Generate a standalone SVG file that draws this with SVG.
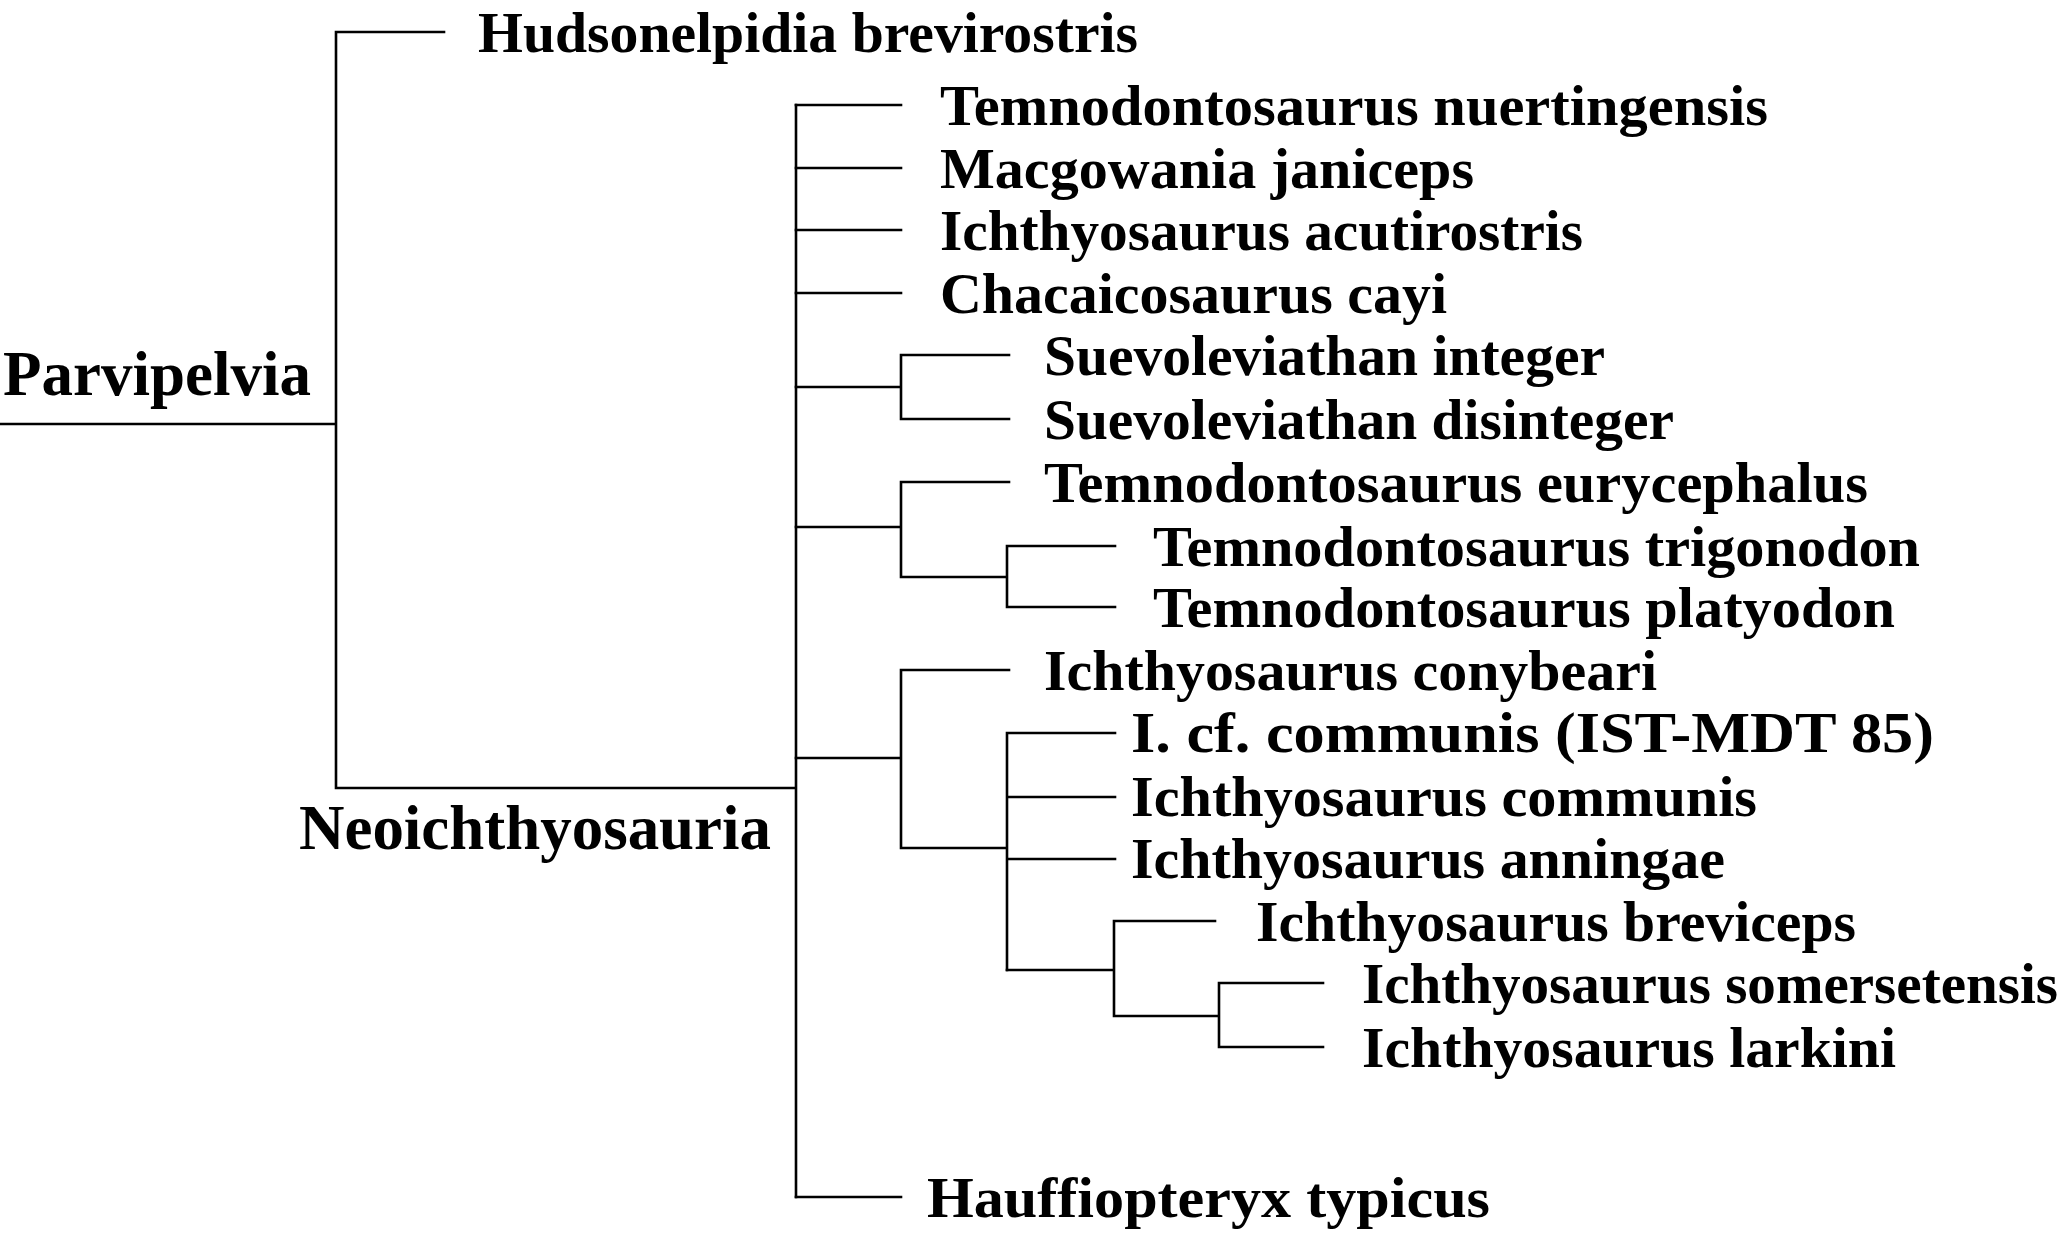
<svg xmlns="http://www.w3.org/2000/svg" width="2067" height="1235" viewBox="0 0 2067 1235">
<style>
.e{fill:none;stroke:#000;stroke-width:2.6;stroke-linecap:square}
.l{font-family:"Liberation Serif","Times New Roman",serif;font-weight:bold;font-size:58px;fill:#000}
.c{font-family:"Liberation Serif","Times New Roman",serif;font-weight:bold;font-size:63px;fill:#000}
</style>
<rect width="2067" height="1235" fill="#fff"/>
<g id="connectors" class="e">
<path d="M0,424H336M336,32V788M336,32H444M336,788H796M796,105V1197"/>
<path d="M796,105H901M796,168H901M796,230H901M796,293H901"/>
<path d="M796,387H901M901,355V419M901,355H1009M901,419H1009"/>
<path d="M796,527H901M901,482V577M901,482H1009M901,577H1007M1007,546V607M1007,546H1115M1007,607H1115"/>
<path d="M796,758H901M901,670V848M901,670H1009M901,848H1007M1007,733V970M1007,733H1115M1007,797H1115M1007,859H1115"/>
<path d="M1007,970H1114M1114,921V1016M1114,921H1215M1114,1016H1219M1219,983V1047M1219,983H1323M1219,1047H1323"/>
<path d="M796,1197H901"/>
</g>
<g id="parvipelvia"><text class="c" x="3" y="395" textLength="308" lengthAdjust="spacingAndGlyphs">Parvipelvia</text></g>
<g id="neoichthyosauria"><text class="c" x="299" y="849" textLength="472" lengthAdjust="spacingAndGlyphs">Neoichthyosauria</text></g>
<g id="hudsonelpidia"><text class="l" x="478" y="52" textLength="660" lengthAdjust="spacingAndGlyphs">Hudsonelpidia brevirostris</text></g>
<g id="t-nuertingensis"><text class="l" x="940" y="125" textLength="828" lengthAdjust="spacingAndGlyphs">Temnodontosaurus nuertingensis</text></g>
<g id="m-janiceps"><text class="l" x="940" y="188" textLength="534" lengthAdjust="spacingAndGlyphs">Macgowania janiceps</text></g>
<g id="i-acutirostris"><text class="l" x="940" y="250" textLength="643" lengthAdjust="spacingAndGlyphs">Ichthyosaurus acutirostris</text></g>
<g id="c-cayi"><text class="l" x="940" y="313" textLength="507" lengthAdjust="spacingAndGlyphs">Chacaicosaurus cayi</text></g>
<g id="s-integer"><text class="l" x="1044" y="375" textLength="561" lengthAdjust="spacingAndGlyphs">Suevoleviathan integer</text></g>
<g id="s-disinteger"><text class="l" x="1044" y="439" textLength="630" lengthAdjust="spacingAndGlyphs">Suevoleviathan disinteger</text></g>
<g id="t-eurycephalus"><text class="l" x="1044" y="502" textLength="824" lengthAdjust="spacingAndGlyphs">Temnodontosaurus eurycephalus</text></g>
<g id="t-trigonodon"><text class="l" x="1153" y="566" textLength="767" lengthAdjust="spacingAndGlyphs">Temnodontosaurus trigonodon</text></g>
<g id="t-platyodon"><text class="l" x="1153" y="627" textLength="742" lengthAdjust="spacingAndGlyphs">Temnodontosaurus platyodon</text></g>
<g id="i-conybeari"><text class="l" x="1044" y="690" textLength="613" lengthAdjust="spacingAndGlyphs">Ichthyosaurus conybeari</text></g>
<g id="i-cf-communis"><text class="l" x="1131" y="752" textLength="803" lengthAdjust="spacingAndGlyphs">I. cf. communis (IST-MDT 85)</text></g>
<g id="i-communis"><text class="l" x="1131" y="816" textLength="626" lengthAdjust="spacingAndGlyphs">Ichthyosaurus communis</text></g>
<g id="i-anningae"><text class="l" x="1131" y="878" textLength="594" lengthAdjust="spacingAndGlyphs">Ichthyosaurus anningae</text></g>
<g id="i-breviceps"><text class="l" x="1256" y="941" textLength="600" lengthAdjust="spacingAndGlyphs">Ichthyosaurus breviceps</text></g>
<g id="i-somersetensis"><text class="l" x="1362" y="1003" textLength="696" lengthAdjust="spacingAndGlyphs">Ichthyosaurus somersetensis</text></g>
<g id="i-larkini"><text class="l" x="1362" y="1067" textLength="534" lengthAdjust="spacingAndGlyphs">Ichthyosaurus larkini</text></g>
<g id="h-typicus"><text class="l" x="927" y="1217" textLength="563" lengthAdjust="spacingAndGlyphs">Hauffiopteryx typicus</text></g>
</svg>
